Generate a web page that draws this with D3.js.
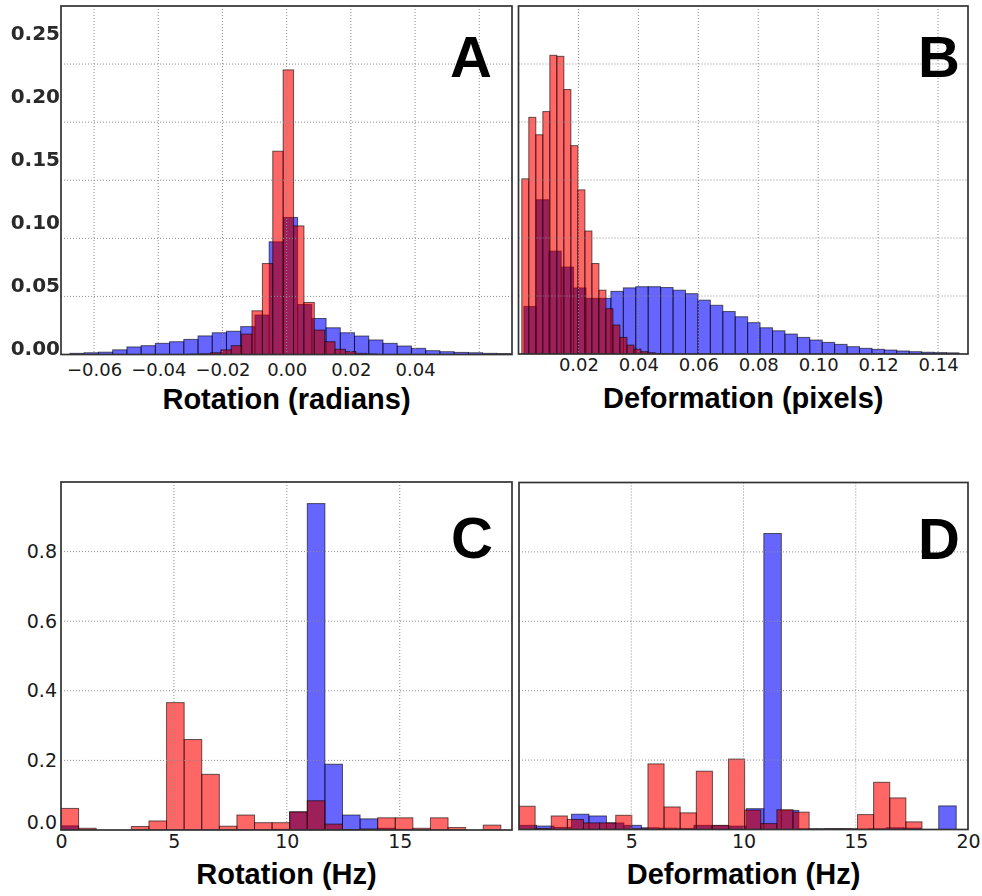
<!DOCTYPE html>
<html>
<head>
<meta charset="utf-8">
<script src="https://cdn.jsdelivr.net/npm/d3@7"></script>
<style>
  body { margin: 0; background: #fff; }
  svg { display: block; }
  .tick text { font-family: "DejaVu Sans", sans-serif; fill: #1a1a1a; }
  .label { font-family: "Liberation Sans", Arial, sans-serif; font-weight: bold; font-size: 29px; text-anchor: middle; }
  .letter { font-family: "Liberation Sans", Arial, sans-serif; font-weight: bold; font-size: 58px; text-anchor: end; }
</style>
</head>
<body>
<svg width="982" height="896"></svg>
<script>
// ---- data ----

// A: rotation (radians)
var rotBlueStart = -0.0675, rotBlueWidth = 0.004432;
var rotBlue = [0.001, 0.0015, 0.002, 0.004, 0.0065, 0.0076, 0.0096, 0.011, 0.013, 0.016,
    0.0187, 0.020, 0.024, 0.034, 0.097, 0.118, 0.043, 0.031, 0.023, 0.0187,
    0.0159, 0.0125, 0.0096, 0.0073, 0.0053, 0.0033, 0.0024, 0.0018, 0.0015, 0.001, 0.0008];
var rotRedStart = -0.030205, rotRedWidth = 0.003235;
var rotRed = [0.0003, 0.0006, 0.0015, 0.004, 0.0076, 0.0176, 0.0376, 0.0783, 0.175, 0.245,
    0.1107, 0.0448, 0.021, 0.011, 0.0045, 0.0025, 0.001, 0.0004];

// B: deformation (pixels)
var defBlueStart = 0.0018, defBlueWidth = 0.004148;
var defBlue = [0.041, 0.133, 0.0887, 0.075, 0.057, 0.048, 0.048, 0.054, 0.057, 0.058,
    0.058, 0.0573, 0.055, 0.052, 0.0464, 0.042, 0.0366, 0.0321, 0.027, 0.0226,
    0.020, 0.0172, 0.0143, 0.012, 0.010, 0.0083, 0.0063, 0.0049, 0.004, 0.0034,
    0.0026, 0.002, 0.0015, 0.0012, 0.001];
var defRedStart = 0.0011, defRedWidth = 0.00234;
var defRed = [0.151, 0.204, 0.189, 0.209, 0.2575, 0.2566, 0.228, 0.1796, 0.1415, 0.106,
    0.078, 0.055, 0.039, 0.025, 0.0143, 0.0077, 0.0043, 0.002, 0.0011, 0.0005, 0.0002];

// C: rotation (Hz)
var rotHzBlueStart = 0, rotHzBlueWidth = 0.779;
var rotHzBlue = [0.012, 0, 0, 0, 0, 0, 0, 0, 0, 0, 0, 0, 0.002, 0.052, 0.938, 0.189,
    0.043, 0.032, 0.005, 0.002, 0, 0, 0, 0, 0];
var rotHzRedStart = 0, rotHzRedWidth = 0.779;
var rotHzRed = [0.062, 0.005, 0, 0, 0.010, 0.026, 0.366, 0.260, 0.160, 0.011, 0.043, 0.021,
    0.021, 0.052, 0.084, 0.017, 0.001, 0.003, 0.035, 0.035, 0.005, 0.035, 0.007, 0, 0.014];

// D: deformation (Hz)
var defHzBlueStart = 0, defHzBlueWidth = 0.779;
var defHzBlue = [0.012, 0.010, 0.006, 0.044, 0.039, 0.019, 0.012, 0.005, 0.004, 0.003,
    0.012, 0.011, 0.010, 0.060, 0.853, 0.055, 0.002, 0.002, 0.002, 0.001,
    0.002, 0.005, 0.004, 0, 0.068];
var defHzRedStart = 0, defHzRedWidth = 0.718;
var defHzRed = [0.067, 0.003, 0.039, 0.029, 0.019, 0.019, 0.041, 0.002, 0.189, 0.065,
    0.048, 0.168, 0.012, 0.203, 0.056, 0.017, 0.057, 0.050, 0.001, 0.002,
    0.002, 0.043, 0.136, 0.091, 0.022];

// ticks / grid
var rotGridX = [-0.06, -0.04, -0.02, 0, 0.02, 0.04, 0.06];
var rotTickX = [-0.06, -0.04, -0.02, 0, 0.02, 0.04];
var defGridX = [0.02, 0.04, 0.06, 0.08, 0.10, 0.12, 0.14];
var defTickX = [0.02, 0.04, 0.06, 0.08, 0.10, 0.12, 0.14];
var topGridY = [0.05, 0.10, 0.15, 0.20, 0.25];
var topTickY = [0, 0.05, 0.10, 0.15, 0.20, 0.25];
var hzGridX = [5, 10, 15];
var rotHzTickX = [0, 5, 10, 15];
var defHzTickX = [5, 10, 15, 20];
var hzGridY = [0.2, 0.4, 0.6, 0.8];
var hzTickY = [0, 0.2, 0.4, 0.6, 0.8];

var svg = d3.select('svg');
var defs = svg.append('defs');

defs.append('filter')
    .attr('id', 'soft')
    .append('feGaussianBlur').attr('stdDeviation', 0.55);

var panels = [
    {id: 'A', left: 61, top: 6, w: 451, h: 348.5,
     xDomain: [-0.0703, 0.0702], yDomain: [0, 0.30],
     blue: rotBlue, blueStart: rotBlueStart, blueWidth: rotBlueWidth,
     red: rotRed, redStart: rotRedStart, redWidth: rotRedWidth,
     gridX: rotGridX, gridY: topGridY, tickX: rotTickX, fmtX: '.2f', padX: 9, fontX: 18,
     tickY: topTickY, title: 'Rotation (radians)', letterDx: 20, letterY: 71},
    {id: 'B', left: 518.5, top: 6, w: 449.5, h: 348,
     xDomain: [0, 0.15], yDomain: [0, 0.30],
     blue: defBlue, blueStart: defBlueStart, blueWidth: defBlueWidth,
     red: defRed, redStart: defRedStart, redWidth: defRedWidth,
     gridX: defGridX, gridY: topGridY, tickX: defTickX, fmtX: '.2f', padX: 4, fontX: 18,
     tickY: null, title: 'Deformation (pixels)', letterDx: 8, letterY: 71},
    {id: 'C', left: 61, top: 482, w: 451, h: 348,
     xDomain: [0, 19.97], yDomain: [0, 1],
     blue: rotHzBlue, blueStart: rotHzBlueStart, blueWidth: rotHzBlueWidth,
     red: rotHzRed, redStart: rotHzRedStart, redWidth: rotHzRedWidth,
     gridX: hzGridX, gridY: hzGridY, tickX: rotHzTickX, fmtX: 'd', padX: 5, fontX: 19,
     tickY: hzTickY, title: 'Rotation (Hz)', letterDx: 19, letterY: 76},
    {id: 'D', left: 519, top: 482.5, w: 449, h: 347,
     xDomain: [0, 20], yDomain: [0, 1],
     blue: defHzBlue, blueStart: defHzBlueStart, blueWidth: defHzBlueWidth,
     red: defHzRed, redStart: defHzRedStart, redWidth: defHzRedWidth,
     gridX: hzGridX, gridY: hzGridY, tickX: defHzTickX, fmtX: 'd', padX: 5, fontX: 19,
     tickY: null, title: 'Deformation (Hz)', letterDx: 8, letterY: 76}
];

function bins(values, start, width) {
    return values.map(function(v, i) {
        return {x0: start + i * width, x1: start + (i + 1) * width, v: v};
    }).filter(function(d) { return d.v > 0; });
}

panels.forEach(function(p) {
    var x = d3.scaleLinear().domain(p.xDomain).range([0, p.w]);
    var y = d3.scaleLinear().domain(p.yDomain).range([p.h, 0]);

    var blueBins = bins(p.blue, p.blueStart, p.blueWidth);
    var redBins = bins(p.red, p.redStart, p.redWidth);

    function place(sel) {
        sel.attr('x', function(d) { return x(d.x0); })
            .attr('width', function(d) { return x(d.x1) - x(d.x0); })
            .attr('y', function(d) { return y(d.v); })
            .attr('height', function(d) { return p.h - y(d.v); });
    }

    var g = svg.append('g').attr('transform', 'translate(' + p.left + ',' + p.top + ')');

    g.append('clipPath').attr('id', 'clip' + p.id)
        .append('rect').attr('width', p.w).attr('height', p.h);

    // union of the blue bars, used to deepen the overlap colour
    g.append('clipPath').attr('id', 'blueArea' + p.id)
        .selectAll('rect').data(blueBins).enter().append('rect').call(place);

    var plot = g.append('g').attr('clip-path', 'url(#clip' + p.id + ')');

    plot.append('g').selectAll('rect')
        .data(blueBins).enter()
        .append('rect').call(place)
        .style('fill', '#0000ff');

    plot.append('g').selectAll('rect')
        .data(redBins).enter()
        .append('rect').call(place)
        .style('fill', '#ff0000');

    plot.selectAll('rect')
        .style('fill-opacity', 0.6)
        .style('stroke', '#000')
        .style('stroke-opacity', 0.6)
        .style('stroke-width', 1);

    plot.append('g')
        .attr('clip-path', 'url(#blueArea' + p.id + ')')
        .selectAll('rect')
        .data(redBins).enter()
        .append('rect').call(place)
        .style('fill', '#200030')
        .style('fill-opacity', 0.22);

    // dotted grid on top (classic matplotlib)
    plot.append('g').selectAll('line')
        .data(p.gridX).enter().append('line')
        .attr('x1', function(d) { return x(d); }).attr('x2', function(d) { return x(d); })
        .attr('y1', 0).attr('y2', p.h);
    plot.append('g').selectAll('line')
        .data(p.gridY).enter().append('line')
        .attr('y1', function(d) { return y(d); }).attr('y2', function(d) { return y(d); })
        .attr('x1', 0).attr('x2', p.w);
    plot.selectAll('line')
        .style('stroke', '#8c8c8c')
        .style('stroke-width', 1)
        .style('stroke-dasharray', '1,2');

    g.append('rect')
        .attr('width', p.w).attr('height', p.h)
        .style('fill', 'none')
        .style('stroke', '#333')
        .style('stroke-width', 1.7);

    // x tick labels
    var xa = g.append('g')
        .attr('transform', 'translate(0,' + p.h + ')')
        .call(d3.axisBottom(x).tickValues(p.tickX).tickFormat(d3.format(p.fmtX)).tickSize(0).tickPadding(p.padX));
    xa.select('.domain').remove();
    xa.selectAll('text').style('font-size', p.fontX + 'px');

    // y tick labels
    if (p.id === 'A') {
        // in the figure these labels sit on a slightly stretched scale
        var yLab = d3.scaleLinear().domain([0, 0.25]).range([342, 27]);
        var ya = g.append('g')
            .call(d3.axisLeft(yLab).tickValues(p.tickY).tickFormat(d3.format('.2f')).tickSize(0).tickPadding(1));
        ya.select('.domain').remove();
        ya.selectAll('text')
            .style('font-size', '20px')
            .style('font-weight', 'bold')
            .style('fill', '#2a2a2a')
            .attr('filter', 'url(#soft)');
    } else if (p.tickY) {
        var yb = g.append('g')
            .call(d3.axisLeft(y).tickValues(p.tickY).tickFormat(d3.format('.1f')).tickSize(0).tickPadding(4));
        yb.select('.domain').remove();
        yb.selectAll('text').style('font-size', '19px');
        yb.selectAll('.tick').filter(function(d) { return d === 0; })
            .select('text').attr('transform', 'translate(0,-8)');
    }

    g.append('text')
        .attr('class', 'label')
        .attr('x', p.w / 2)
        .attr('y', p.h + 54)
        .text(p.title);

    g.append('text')
        .attr('class', 'letter')
        .attr('x', p.w - p.letterDx)
        .attr('y', p.letterY)
        .text(p.id);
});
</script>
</body>
</html>
